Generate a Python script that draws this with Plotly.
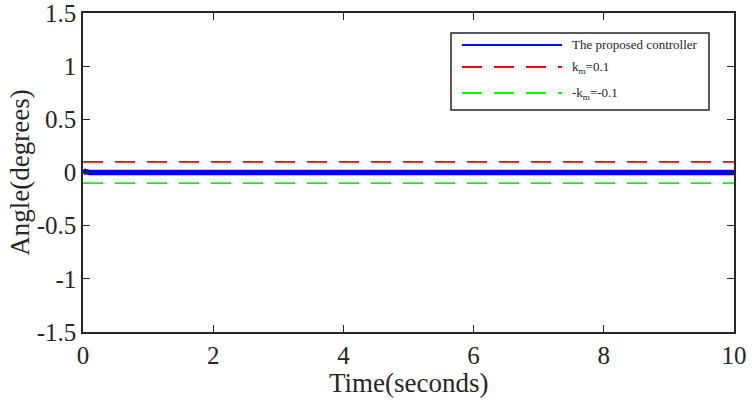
import plotly.graph_objects as go

# Data
t_ctrl = [0.0, 0.02, 0.04, 0.06, 0.08, 0.1, 0.2, 10.0]
ang_ctrl = [0.0, 0.015, 0.01, 0.005, 0.002, 0.0, 0.0, 0.0]
t_bound = [0.0, 10.0]
upper = [0.1, 0.1]
lower = [-0.1, -0.1]
x_ticks = [0, 2, 4, 6, 8, 10]
y_ticks = [-1.5, -1, -0.5, 0, 0.5, 1, 1.5]
y_labels = ["-1.5", "-1", "-0.5", "0", "0.5", "1", "1.5"]
names = ["The proposed controller", "k<sub>m</sub>=0.1", "-k<sub>m</sub>=-0.1"]
colors = ["#0000ff", "#ff0000", "#00ff00"]

font_family = "Liberation Serif"
ink = "#262626"

fig = go.Figure()
fig.add_trace(go.Scatter(x=t_ctrl, y=ang_ctrl, mode="lines",
                         line=dict(color=colors[0], width=5.5),
                         name=names[0], showlegend=False))
fig.add_trace(go.Scatter(x=t_bound, y=upper, mode="lines",
                         line=dict(color=colors[1], width=1.8, dash="20px,12px"),
                         name=names[1], showlegend=False))
fig.add_trace(go.Scatter(x=t_bound, y=lower, mode="lines",
                         line=dict(color=colors[2], width=1.8, dash="20px,12px"),
                         name=names[2], showlegend=False))

axis_common = dict(showgrid=False, zeroline=False, showline=True, linecolor=ink,
                   linewidth=1.5, mirror="ticks", ticks="inside", ticklen=7,
                   tickcolor=ink, automargin=False, ticklabeloverflow="allow",
                   tickfont=dict(family=font_family, size=25, color=ink))

# custom legend (paper coordinates)
shapes = [dict(type="rect", xref="paper", yref="paper", x0=0.5653, x1=0.9616,
               y0=0.6959, y1=0.9373, line=dict(color=ink, width=1.5), fillcolor="white",
               layer="above")]
leg_y = [0.8997, 0.8307, 0.7492]
leg_dash = ["solid", "20px,12px", "20px,12px"]
annotations = []
for nm, c, yy, dsh in zip(names, colors, leg_y, leg_dash):
    shapes.append(dict(type="line", xref="paper", yref="paper", x0=0.5822, x1=0.7358,
                       y0=yy, y1=yy, line=dict(color=c, width=2, dash=dsh), layer="above"))
    annotations.append(dict(xref="paper", yref="paper", x=0.7481, y=yy, xanchor="left",
                            yanchor="middle", text=nm, showarrow=False,
                            font=dict(family=font_family, size=13, color=ink)))

annotations.append(dict(xref="paper", yref="paper", x=0.5, y=-0.16, xanchor="center",
                        yanchor="middle", text="Time(seconds)", showarrow=False,
                        font=dict(family=font_family, size=27, color=ink)))
annotations.append(dict(xref="paper", yref="paper", x=-0.098, y=0.5, xanchor="center",
                        yanchor="middle", text="Angle(degrees)", showarrow=False, textangle=-90,
                        font=dict(family=font_family, size=27, color=ink)))

fig.update_layout(
    width=752, height=407,
    margin=dict(l=83, r=18, t=13, b=75),
    paper_bgcolor="white", plot_bgcolor="white",
    font=dict(family=font_family, color=ink),
    xaxis=dict(range=[0, 10], tickvals=x_ticks, **axis_common),
    yaxis=dict(range=[-1.5, 1.5], tickvals=y_ticks, ticktext=y_labels, **axis_common),
    shapes=shapes,
    annotations=annotations,
    showlegend=False,
)

fig.write_html("out.html")
